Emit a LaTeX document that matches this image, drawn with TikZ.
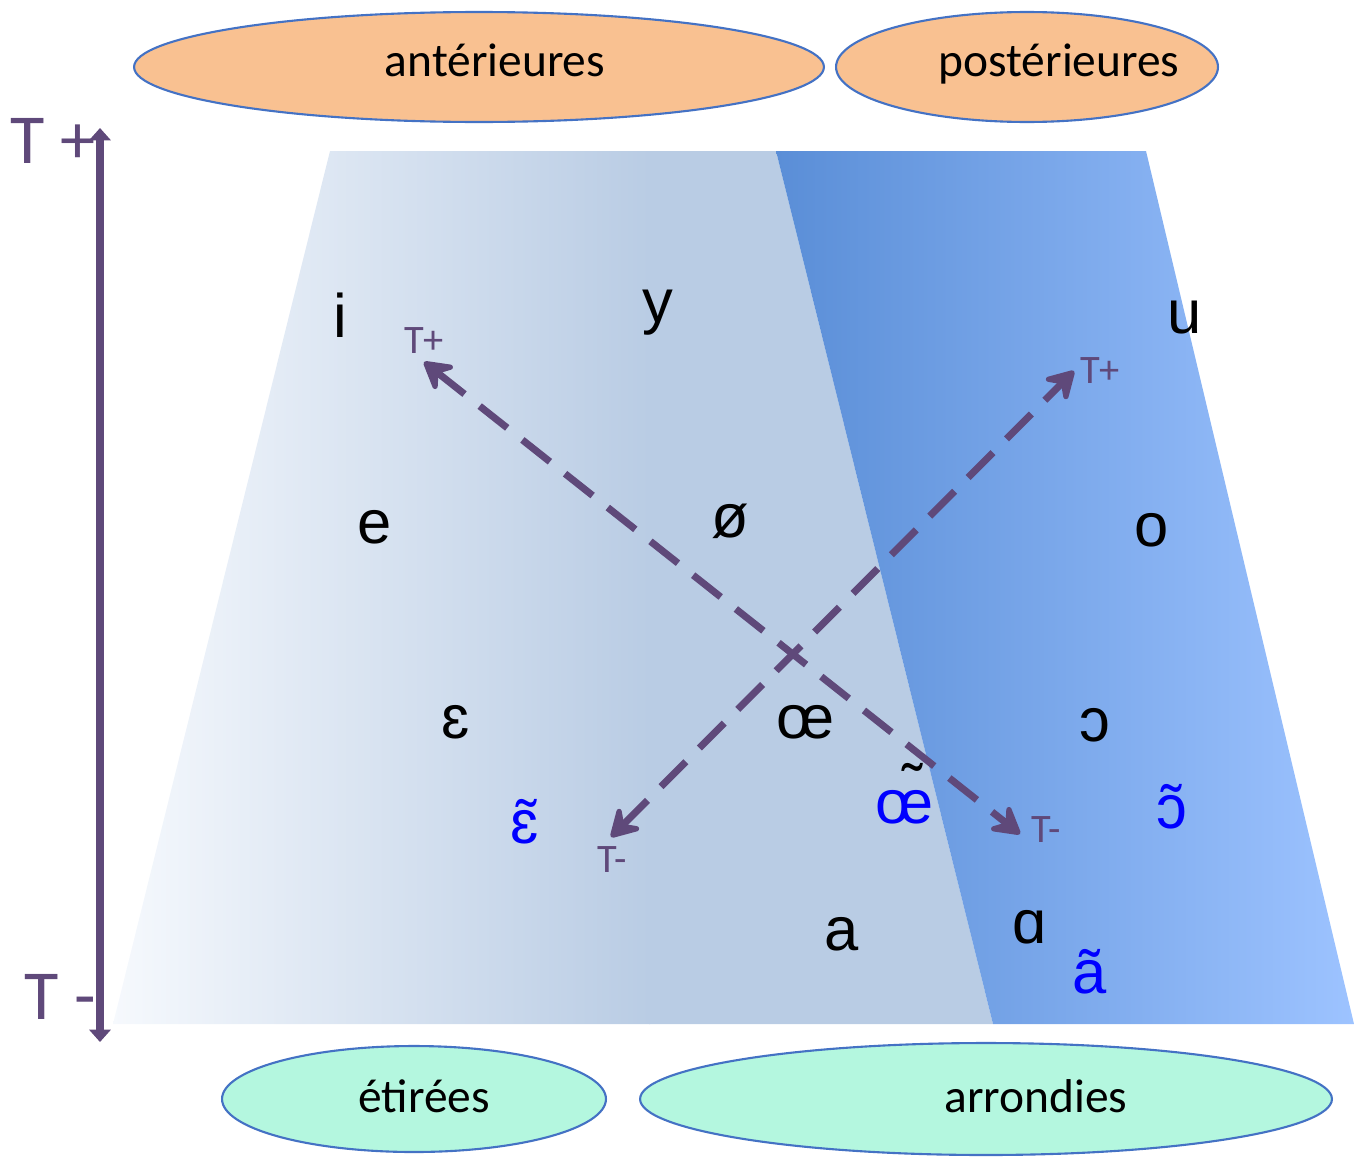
\documentclass[tikz,border=0pt]{standalone}
\usepackage{fontspec}
\setmainfont{Carlito}
\newfontfamily\ipafont{Liberation Sans}
\usetikzlibrary{arrows.meta,shapes.geometric}
\definecolor{purp}{HTML}{5F497A}
\definecolor{lightL}{HTML}{F6F9FD}
\definecolor{lightR}{HTML}{B9CCE4}
\definecolor{blueL}{HTML}{5A8ED7}
\definecolor{blueR}{HTML}{9DC3FF}
\definecolor{orangeF}{HTML}{F9C191}
\definecolor{mintF}{HTML}{B4F7DF}
\definecolor{ellB}{HTML}{4472C4}
\definecolor{nasal}{HTML}{0000FF}
\tikzset{
  ellbox/.style={ellipse, draw=ellB, line width=1.2pt, inner sep=0pt},
  elltext/.style={font=\fontsize{27}{30}\selectfont, anchor=base, inner sep=0pt},
  vowel/.style={font=\ipafont\fontsize{35}{40}\selectfont, anchor=base, inner sep=0pt},
  nasalv/.style={vowel, text=nasal},
  tlab/.style={font=\fontsize{23}{25}\selectfont, text=purp, anchor=base, inner sep=0pt},
  biglab/.style={font=\fontsize{40}{44}\selectfont, text=purp, anchor=base west, inner sep=0pt},
  dasharrow/.style={draw=purp, line width=4pt, dash pattern=on 20pt off 11pt,
    {Stealth[round,length=20pt,width=23pt,inset=8pt]}-{Stealth[round,length=20pt,width=23pt,inset=8pt]}},
  axis/.style={draw=purp, line width=4pt, {Triangle[length=7pt,width=12pt]}-{Triangle[length=7pt,width=12pt]}}
}
\begin{document}
\begin{tikzpicture}[x=0.02cm,y=-0.02cm]
\useasboundingbox (0,0) rectangle (1354,1156);
% light trapezoid
\begin{scope}
  \clip (330,151) -- (776,151) -- (993,1024) -- (113,1024) -- cycle;
  \shade[left color=lightL, right color=lightR] (112,150) rectangle (650,1025);
  \fill[lightR] (649,150) rectangle (1000,1025);
\end{scope}
% blue parallelogram
\begin{scope}
  \clip (776,151) -- (1146,151) -- (1354,1024) -- (993,1024) -- cycle;
  \shade[left color=blueL, right color=blueR] (776,150) rectangle (1354,1025);
\end{scope}
% ellipses
\node[ellbox, fill=orangeF, minimum width=13.8cm, minimum height=2.2cm] (antE) at (479,67) {};
\node[ellbox, fill=orangeF, minimum width=7.64cm, minimum height=2.2cm] (postE) at (1027,67) {};
\node[ellbox, fill=mintF, minimum width=7.68cm, minimum height=2.12cm] (etiE) at (414,1099) {};
\node[ellbox, fill=mintF, minimum width=13.84cm, minimum height=2.24cm] (arrE) at (986,1099) {};
\node[elltext] (antT) at (495,76) {antérieures};
\node[elltext] (postT) at (1059,76) {postérieures};
\node[elltext] (etiT) at (424,1112) {étirées};
\node[elltext] (arrT) at (1036,1112) {arrondies};
% axis
\coordinate (axTop) at (100,128);
\coordinate (axBot) at (100,1042);
\node[biglab] (tplus) at (10,163) {T +};
\node[biglab] (tminus) at (24,1019) {T -};
\draw[axis] (axBot) -- (axTop);
% vowels
\node[vowel] (vi) at (340,337) {i};
\node[vowel] (vy) at (658,322) {y};
\node[vowel] (vu) at (1185,333) {u};
\node[vowel] (ve) at (375,543) {e};
\node[vowel] (voe) at (730,537) {ø};
\node[vowel] (vo) at (1152,546) {o};
\node[vowel] (veps) at (456,738) {ɛ};
\node[vowel] (voel) at (806,738) {œ};
\node[vowel] (vopen) at (1095,741) {ɔ};
\node[vowel] (va) at (842,950) {a};
\node[vowel] (valpha) at (1030,943) {ɑ};
\node[nasalv] (neps) at (525,843) {ɛ̃};
\node[nasalv] (noel) at (905,823) {\rlap{\hspace{15pt}\raisebox{9pt}{\color{black}\char"02DC}}œ};
\node[nasalv] (nopen) at (1172,828) {ɔ̃};
\node[nasalv] (nalpha) at (1090,993) {ã};
% dashed arrows
\coordinate (aS) at (424,362);
\coordinate (aE) at (1020,834);
\coordinate (bS) at (611,837);
\coordinate (bE) at (1074,371);
\draw[dasharrow] (aS) -- (aE);
\draw[dasharrow] (bS) -- (bE);
\node[tlab] (lab1) at (424,353) {T+};
\node[tlab] (lab2) at (1100,383) {T+};
\node[tlab] (lab3) at (612,872) {T-};
\node[tlab] (lab4) at (1046,842) {T-};
\end{tikzpicture}
\end{document}
